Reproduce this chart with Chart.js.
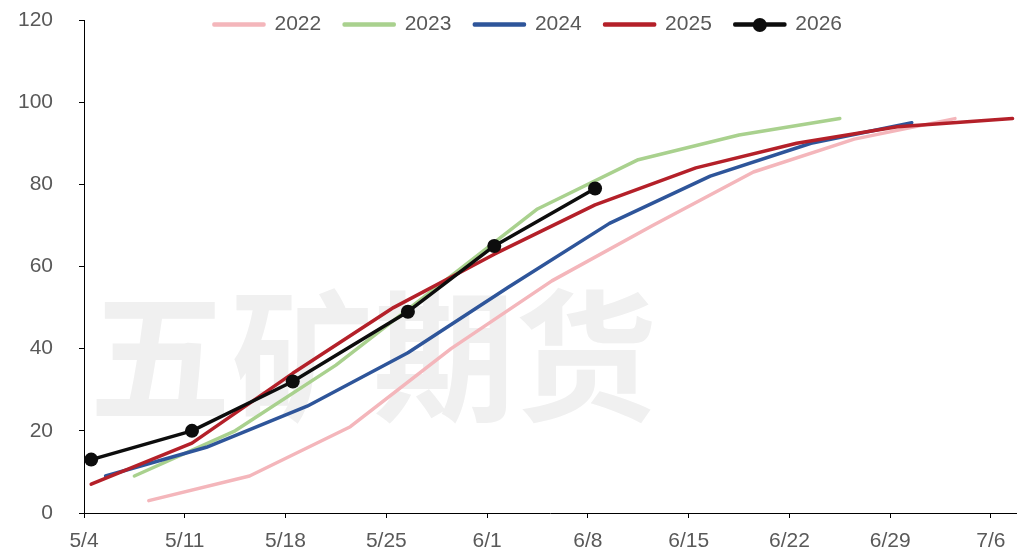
<!DOCTYPE html>
<html>
<head>
<meta charset="utf-8">
<script src="https://cdn.jsdelivr.net/npm/chart.js@4"></script>
<style>
  html, body { margin: 0; padding: 0; background: #fff; }
  #wrap { width: 1017px; height: 551px; }
</style>
</head>
<body>
<div id="wrap"><canvas id="chart"></canvas></div>
<script>
// ===== DATA =====
// x values are days after 5/4
const tickLabels = ["5/4", "5/11", "5/18", "5/25", "6/1", "6/8", "6/15", "6/22", "6/29", "7/6"];
const seriesNames = ["2022", "2023", "2024", "2025", "2026"];

const days2022 = [4, 11, 18, 25, 32, 39, 46, 53, 60];
const vals2022 = [3, 9, 21, 40, 56.5, 70, 83, 91, 96];

const days2023 = [3, 10, 17, 24, 31, 38, 45, 52];
const vals2023 = [9, 20, 36, 55, 74, 86, 92, 96];

const days2024 = [1, 8, 15, 22, 29, 36, 43, 50, 57];
const vals2024 = [9, 16, 26, 39, 55, 70.5, 82, 90, 95];

const days2025 = [0, 7, 14, 21, 28, 35, 42, 49, 56, 64];
const vals2025 = [7, 17, 34, 50, 63, 75, 84, 90, 94, 96];

const days2026 = [0, 7, 14, 22, 28, 35];
const vals2026 = [13, 20, 32, 49, 65, 79];

const colors = ["#F4B6BB", "#A9D18E", "#2E559A", "#B42029", "#0D0D0D"];

// ===== HELPERS =====
const FONT = "'Liberation Sans', Arial, sans-serif";
const TEXT_COLOR = "#595959";
const LEGEND_BOX = 50;
const LEGEND_FONT = 21;

function points(days, vals) {
  return days.map((d, i) => ({ x: d, y: vals[i] }));
}

function lineSet(idx, days, vals, extra) {
  return Object.assign({
    label: seriesNames[idx],
    data: points(days, vals),
    borderColor: colors[idx],
    backgroundColor: colors[idx],
    borderWidth: 3.5,
    borderCapStyle: "round",
    borderJoinStyle: "round",
    pointRadius: 0,
    tension: 0,
    clip: 4,
    order: 5 - idx
  }, extra || {});
}

// ===== PLUGIN: watermark + legend placement =====
const decorations = {
  id: "decorations",
  beforeUpdate(chart) {
    // legend floats over the plot area, so it takes no layout height
    const lg = chart.legend;
    if (lg && !lg._patched) {
      const fit = lg.fit;
      lg.fit = function () {
        fit.call(this);
        this._realHeight = this.height;
        this.height = 0;
      };
      lg._patched = true;
    }
  },
  afterUpdate(chart) {
    const lg = chart.legend;
    if (!lg) return;
    const dx = 20, dy = -29;
    lg.left += dx; lg.right += dx;
    lg.top += dy;
    lg.bottom = lg.top + (lg._realHeight || 0);
    lg.height = lg._realHeight || 0;
    (lg.legendHitBoxes || []).forEach(h => { h.left += dx; h.top += dy; });
  },
  beforeDatasetsDraw(chart) {
    const { ctx, chartArea } = chart;
    ctx.save();
    ctx.font = "bold 142px 'Noto Sans CJK SC', sans-serif";
    ctx.fillStyle = "#f0f0f0";
    ctx.textAlign = "left";
    ctx.textBaseline = "alphabetic";
    ctx.fillText("五矿期货", chartArea.left + 5, chartArea.bottom - 103);
    ctx.restore();
  },
  afterDraw(chart) {
    const hb = chart.legend && chart.legend.legendHitBoxes[4];
    if (!hb) return;
    const ctx = chart.ctx;
    ctx.save();
    ctx.beginPath();
    ctx.arc(hb.left + LEGEND_BOX / 2, hb.top + LEGEND_FONT / 2 + 0.5, 7, 0, Math.PI * 2);
    ctx.fillStyle = colors[4];
    ctx.fill();
    ctx.restore();
  }
};

// ===== CHART =====
const ctx = document.getElementById("chart").getContext("2d");
new Chart(ctx, {
  type: "line",
  data: {
    datasets: [
      lineSet(0, days2022, vals2022),
      lineSet(1, days2023, vals2023),
      lineSet(2, days2024, vals2024),
      lineSet(3, days2025, vals2025),
      lineSet(4, days2026, vals2026, {
        pointRadius: 7,
        pointHoverRadius: 7,
        pointBackgroundColor: colors[4],
        pointBorderColor: colors[4],
        pointBorderWidth: 0
      })
    ]
  },
  options: {
    responsive: true,
    maintainAspectRatio: false,
    animation: false,
    layout: { autoPadding: false, padding: { top: 20, right: 1, left: 0, bottom: 0 } },
    plugins: {
      tooltip: { enabled: false },
      legend: {
        position: "top",
        align: "center",
        labels: {
          boxWidth: LEGEND_BOX,
          boxHeight: 1,
          padding: 23,
          color: TEXT_COLOR,
          font: { family: FONT, size: LEGEND_FONT },
          sort: (a, b) => a.datasetIndex - b.datasetIndex
        }
      }
    },
    scales: {
      x: {
        type: "linear",
        min: -0.5,
        max: 64.24,
        afterBuildTicks: s => { s.ticks = tickLabels.map((_, i) => ({ value: i * 7 - 0.5 })); },
        afterFit: s => { s.height = 38; s.paddingLeft = 0; s.paddingRight = 0; },
        ticks: {
          autoSkip: false,
          maxRotation: 0,
          padding: 11,
          color: TEXT_COLOR,
          font: { family: FONT, size: 21 },
          callback: (v, i) => tickLabels[i]
        },
        grid: { drawOnChartArea: false, drawTicks: true, tickLength: 5, color: "#000" },
        border: { color: "#000", width: 1 }
      },
      y: {
        min: 0,
        max: 120,
        afterFit: s => { s.width = 84; s.paddingTop = 0; s.paddingBottom = 0; },
        ticks: {
          stepSize: 20,
          padding: 26,
          color: TEXT_COLOR,
          font: { family: FONT, size: 21 }
        },
        grid: { drawOnChartArea: false, drawTicks: true, tickLength: 5, color: "#000" },
        border: { color: "#000", width: 1 }
      }
    }
  },
  plugins: [decorations]
});
</script>
</body>
</html>
